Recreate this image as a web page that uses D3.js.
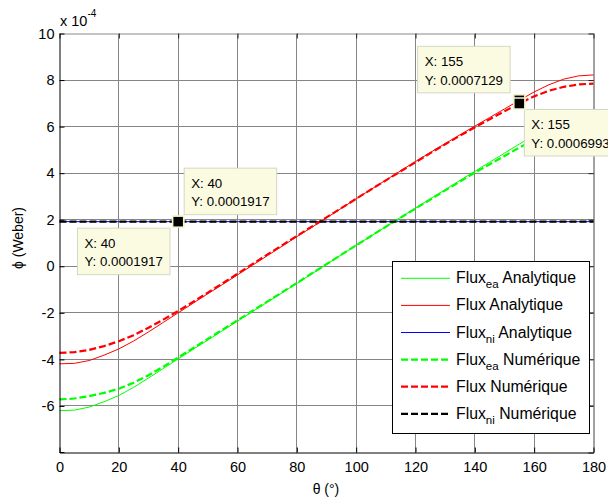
<!DOCTYPE html>
<html>
<head>
<meta charset="utf-8">
<script src="https://cdn.jsdelivr.net/npm/d3@7"></script>
<style>
html,body{margin:0;padding:0;background:#fff;}
svg{display:block;font-family:"Liberation Sans",Arial,sans-serif;}
</style>
</head>
<body>
<svg id="chart" width="608" height="500"></svg>
<script>
// ---- data (flux values in units of 1e-4 Weber) ----
const theta = [0,5,10,15,20,25,30,35,40,45,50,55,60,65,70,75,80,85,90,95,100,105,110,115,120,125,130,135,140,145,150,155,160,165,170,175,180];
const fluxEaAnalytique = [-6.20,-6.18,-6.05,-5.82,-5.55,-5.20,-4.80,-4.39,-3.98,-3.57,-3.17,-2.76,-2.36,-1.95,-1.55,-1.14,-0.74,-0.33,0.08,0.49,0.90,1.30,1.70,2.10,2.50,2.90,3.29,3.69,4.08,4.47,4.86,5.25,5.62,5.93,6.15,6.27,6.30];
const fluxAnalytique = [-4.19,-4.17,-4.05,-3.82,-3.55,-3.21,-2.82,-2.41,-2.00,-1.59,-1.18,-0.78,-0.37,0.04,0.45,0.86,1.27,1.67,2.08,2.49,2.90,3.30,3.70,4.10,4.50,4.89,5.27,5.65,6.02,6.39,6.76,7.129,7.49,7.80,8.04,8.18,8.22];
const fluxNiAnalytique = [1.917,1.917,1.917,1.917,1.917,1.917,1.917,1.917,1.917,1.917,1.917,1.917,1.917,1.917,1.917,1.917,1.917,1.917,1.917,1.917,1.917,1.917,1.917,1.917,1.917,1.917,1.917,1.917,1.917,1.917,1.917,1.917,1.917,1.917,1.917,1.917,1.917];
const fluxEaNumerique = [-5.72,-5.68,-5.58,-5.44,-5.26,-5.00,-4.68,-4.31,-3.92,-3.52,-3.12,-2.72,-2.32,-1.92,-1.52,-1.12,-0.72,-0.31,0.09,0.50,0.90,1.30,1.70,2.09,2.48,2.87,3.26,3.64,4.02,4.38,4.74,5.10,5.42,5.66,5.82,5.91,5.94];
const fluxNumerique = [-3.72,-3.69,-3.59,-3.43,-3.22,-2.96,-2.64,-2.29,-1.92,-1.53,-1.13,-0.73,-0.32,0.09,0.50,0.90,1.30,1.70,2.10,2.50,2.90,3.30,3.69,4.08,4.47,4.86,5.24,5.61,5.97,6.32,6.66,6.993,7.30,7.54,7.71,7.81,7.85];
const fluxNiNumerique = [1.917,1.917,1.917,1.917,1.917,1.917,1.917,1.917,1.917,1.917,1.917,1.917,1.917,1.917,1.917,1.917,1.917,1.917,1.917,1.917,1.917,1.917,1.917,1.917,1.917,1.917,1.917,1.917,1.917,1.917,1.917,1.917,1.917,1.917,1.917,1.917,1.917];

const xTicks = [0,20,40,60,80,100,120,140,160,180];
const yTicks = [-6,-4,-2,0,2,4,6,8,10];
const yTickLabels = ["-6","-4","-2","0","2","4","6","8","10"];
const yGrid  = [-6,-4,-2,0,2,4,6,8];
const xGrid  = [20,40,60,80,100,120,140,160];

const seriesNames = ["Flux|ea| Analytique","Flux Analytique","Flux|ni| Analytique","Flux|ea| Numérique","Flux Numérique","Flux|ni| Numérique"];
const seriesColors = ["#00ff00","#ff0000","#0000ff","#00ff00","#ff0000","#000000"];
const seriesDashed = [false,false,false,true,true,true];
const seriesData = [fluxEaAnalytique,fluxAnalytique,fluxNiAnalytique,fluxEaNumerique,fluxNumerique,fluxNiNumerique];

const tipX = [40,40,155,155];
const tipY = [1.917,1.917,7.129,6.993];
const tipLabelX = ["X: 40","X: 40","X: 155","X: 155"];
const tipLabelY = ["Y: 0.0001917","Y: 0.0001917","Y: 0.0007129","Y: 0.0006993"];

// ---- layout ----
const L = 59.5, R = 593.5, T = 33.5, B = 452.5;
const x = d3.scaleLinear().domain([0,180]).range([L,R]);
const y = d3.scaleLinear().domain([-8,10]).range([B,T]);
const svg = d3.select("#chart");
svg.append("rect").attr("width",608).attr("height",500).attr("fill","#fff");

// grid
const grid = svg.append("g").attr("stroke","#858585").attr("stroke-width",1).attr("shape-rendering","crispEdges");
grid.selectAll("line.v").data(xGrid).join("line").attr("class","v")
  .attr("x1",d=>x(d)).attr("x2",d=>x(d)).attr("y1",T).attr("y2",B);
grid.selectAll("line.h").data(yGrid).join("line").attr("class","h")
  .attr("y1",d=>y(d)).attr("y2",d=>y(d)).attr("x1",L).attr("x2",R);

// box top/right with inward ticks
const topAx = svg.append("g").attr("transform",`translate(0,${T})`)
  .call(d3.axisTop(x).tickValues(xTicks).tickFormat("").tickSizeInner(-5).tickSizeOuter(0));
topAx.select(".domain").attr("stroke","#888");
topAx.selectAll(".tick line").attr("stroke","#222");
const rightAx = svg.append("g").attr("transform",`translate(${R},0)`)
  .call(d3.axisRight(y).tickValues(yTicks.concat([-8])).tickFormat("").tickSizeInner(-5).tickSizeOuter(0));
rightAx.select(".domain").attr("stroke","#444");
rightAx.selectAll(".tick line").attr("stroke","#222");

// lines
const line = d3.line().x((d,i)=>x(theta[i])).y(d=>y(d));
seriesData.forEach((s,k)=>{
  svg.append("path").datum(s).attr("d",line).attr("fill","none")
    .attr("stroke",seriesColors[k])
    .attr("stroke-width",seriesDashed[k]?2.2:1)
    .attr("stroke-dasharray",seriesDashed[k]?"7,3":null);
});

// bottom & left axes
const bottomAx = svg.append("g").attr("transform",`translate(0,${B})`)
  .call(d3.axisBottom(x).tickValues(xTicks).tickSizeInner(-5).tickSizeOuter(0).tickPadding(9));
const leftAx = svg.append("g").attr("transform",`translate(${L},0)`)
  .call(d3.axisLeft(y).tickValues(yTicks).tickFormat((d,i)=>yTickLabels[i]).tickSizeInner(-5).tickSizeOuter(0).tickPadding(5));
[bottomAx,leftAx].forEach(a=>{
  a.attr("font-family","\"Liberation Sans\",Arial,sans-serif").attr("font-size",14.5);
  a.select(".domain").attr("stroke","#000");
  a.selectAll(".tick line").attr("stroke","#000");
  a.selectAll(".tick text").attr("fill","#000");
});
// -8 tick mark without label on left
svg.append("line").attr("x1",L).attr("x2",L+5).attr("y1",y(-8)).attr("y2",y(-8)).attr("stroke","#000");

// exponent label
const ex = svg.append("text").attr("x",60).attr("y",26).attr("font-size",14.5).attr("fill","#000");
ex.append("tspan").text("x 10");
ex.append("tspan").attr("font-size",10).attr("dy",-9).text("-4");

// axis titles
svg.append("text").attr("x",326).attr("y",494).attr("text-anchor","middle").attr("font-size",14).text("θ (°)");
svg.append("text").attr("transform",`translate(23,238) rotate(-90)`).attr("text-anchor","middle").attr("font-size",14).text("ϕ (Weber)");

// legend
const lg = svg.append("g");
lg.append("rect").attr("x",392).attr("y",261).attr("width",197).attr("height",172)
  .attr("fill","#fff").attr("stroke","#000").attr("stroke-width",1).attr("shape-rendering","crispEdges");
seriesNames.forEach((n,k)=>{
  const cy = 278.3 + k*27.1;
  lg.append("line").attr("x1",401).attr("x2",450).attr("y1",cy).attr("y2",cy)
    .attr("stroke",seriesColors[k]).attr("stroke-width",seriesDashed[k]?2.2:1)
    .attr("stroke-dasharray",seriesDashed[k]?"7,3":null);
  const parts = n.split("|");
  const t = lg.append("text").attr("x",456).attr("y",cy+5).attr("font-size",15.8).attr("fill","#000");
  t.append("tspan").text(parts[0]);
  if (parts.length>1){
    t.append("tspan").attr("font-size",11.5).attr("dy",5).text(parts[1]);
    t.append("tspan").attr("dy",-5).text(parts[2]);
  }
});

// data tips
const tipOffsets = [[6,-53.5],[-100.7,6.5],[-101.7,-54],[5,6]];
tipX.forEach((tx,k)=>{
  const px = x(tx), py = y(tipY[k]);
  const bx = px + tipOffsets[k][0], by = py + tipOffsets[k][1];
  const g = svg.append("g");
  g.append("rect").attr("x",bx).attr("y",by).attr("width",92.5).attr("height",46.5)
    .attr("fill","#fbfbe2").attr("stroke","#d6d6c6").attr("stroke-width",1);
  g.append("text").attr("x",bx+7).attr("y",by+20).attr("font-size",13.3).text(tipLabelX[k]);
  g.append("text").attr("x",bx+7).attr("y",by+38.3).attr("font-size",13.3).text(tipLabelY[k]);
});
tipX.forEach((tx,k)=>{
  const px = x(tx), py = y(tipY[k]);
  svg.append("rect").attr("x",px-5.5).attr("y",py-5.5).attr("width",11).attr("height",11)
    .attr("fill","#000").attr("stroke","#f4f4cc").attr("stroke-width",1.5);
});
</script>
</body>
</html>
